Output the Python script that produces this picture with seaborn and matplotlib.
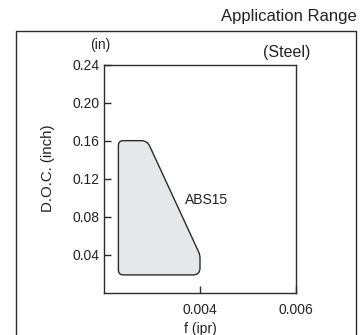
import numpy as np
import matplotlib
matplotlib.use("Agg")
import matplotlib.pyplot as plt
import seaborn as sns
from matplotlib.path import Path
from matplotlib.patches import PathPatch
from matplotlib.lines import Line2D

# Application range of the ABS15 insert for steel
feed_ipr = [0.0023, 0.0023, 0.0029, 0.0040, 0.0040]
doc_inch = [0.019, 0.160, 0.160, 0.040, 0.019]
corner_radius_px = [5, 5, 6, 3, 7]

y_ticks = [0.04, 0.08, 0.12, 0.16, 0.20, 0.24]
y_tick_labels = ["0.04", "0.08", "0.12", "0.16", "0.20", "0.24"]
x_ticks = [0.004, 0.006]
x_tick_labels = ["0.004", "0.006"]

sns.set_theme(style="ticks")
plt.rcParams["font.family"] = ["Liberation Sans", "DejaVu Sans"]

ink = "#2b2b2b"
fig = plt.figure(figsize=(3.62, 3.35), dpi=100)
fig.patch.set_facecolor("white")

ax = fig.add_axes([104 / 362, 42 / 335, 192 / 362, 228.5 / 335])
ax.set_xlim(0.002, 0.006)
ax.set_ylim(0.0, 0.24)
ax.set_facecolor("white")
for s in ax.spines.values():
    s.set_color(ink)
    s.set_linewidth(1.0)

ax.set_yticks(y_ticks)
ax.set_yticklabels(y_tick_labels)
ax.set_xticks(x_ticks)
ax.set_xticklabels(x_tick_labels)
ax.tick_params(direction="in", length=5, width=1, color=ink,
               labelsize=10, labelcolor="#222222")
ax.tick_params(axis="x", pad=7)
ax.tick_params(axis="y", pad=3)


def rounded_path(xs, ys, radii, trans):
    """Closed path through the data corners, rounded in display space."""
    pts = trans.transform(np.column_stack([xs, ys]))
    n = len(pts)
    verts, codes = [], []
    for i in range(n):
        p = pts[i]
        prev_p = pts[i - 1]
        next_p = pts[(i + 1) % n]
        d_in = (prev_p - p) / np.linalg.norm(prev_p - p)
        d_out = (next_p - p) / np.linalg.norm(next_p - p)
        r = radii[i]
        a = p + d_in * r
        b = p + d_out * r
        verts.append(a)
        codes.append(Path.MOVETO if i == 0 else Path.LINETO)
        verts += [p, b]
        codes += [Path.CURVE3, Path.CURVE3]
    verts.append(verts[0])
    codes.append(Path.CLOSEPOLY)
    return Path(np.array(verts), codes)


fig.canvas.draw()
region = PathPatch(rounded_path(feed_ipr, doc_inch, corner_radius_px, ax.transData),
                   transform=None, facecolor="#e6e7e8", edgecolor=ink,
                   linewidth=1.0, zorder=2)
ax.add_artist(region)

ax.text(0.00413, 0.098, "ABS15", fontsize=10, color="#222222",
        ha="center", va="center")
ax.set_ylabel("D.O.C. (inch)", fontsize=10.8, color="#222222")
ax.yaxis.set_label_coords(-0.255, 0.547)
ax.set_xlabel("f (ipr)", fontsize=10, color="#222222", labelpad=4)

fig.text(100 / 362, 1 - 45 / 335, "(in)", fontsize=10, color="#222222",
         ha="center", va="center")
fig.text(287 / 362, 1 - 53 / 335, "(Steel)", fontsize=11.5, color="#222222",
         ha="center", va="center")
fig.text(357 / 362, 1 - 17 / 335, "Application Range", fontsize=12,
         color="#222222", ha="right", va="center")

# outer frame, open at the bottom
fl, fr, ft = 15.5 / 362, 355.5 / 362, 1 - 31 / 335
fig.add_artist(Line2D([fl, fl, fr, fr], [0, ft, ft, 0], color=ink,
                      linewidth=1.0, transform=fig.transFigure))

fig.savefig("out.png", dpi=100)
